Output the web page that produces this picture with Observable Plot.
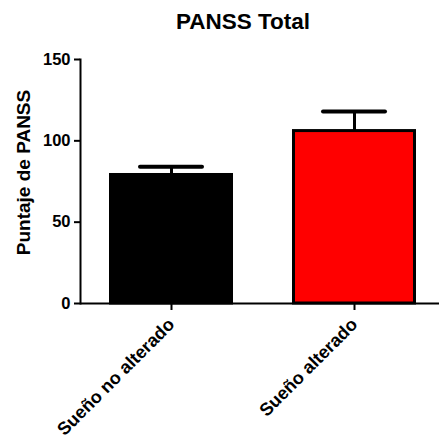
<!DOCTYPE html>
<html>
<head>
<meta charset="utf-8">
<script src="https://cdn.jsdelivr.net/npm/d3@7"></script>
<script src="https://cdn.jsdelivr.net/npm/@observablehq/plot@0.6"></script>
<style>
  html, body { margin: 0; padding: 0; background: #fff; }
</style>
</head>
<body>
<div id="chart"></div>
<script>
// PANSS total score by sleep group: mean and error (upper whisker only)
const groups = ["Sueño no alterado", "Sueño alterado"];
const means = [79, 106];
const errors = [5, 12];
const colors = ["#000000", "#ff0000"];
const yTicks = [0, 50, 100, 150];

const title = "PANSS Total";
const yLabel = "Puntaje de PANSS";

const rows = groups.map((g, i) => ({group: g, mean: means[i], err: errors[i], color: colors[i]}));

const font = "'Liberation Sans', Arial, Helvetica, sans-serif";

const chart = Plot.plot({
  width: 439,
  height: 440,
  marginLeft: 80,
  marginRight: 0,
  marginTop: 59,
  marginBottom: 137,
  style: {fontFamily: font, fontWeight: "bold", fontSize: "16px", color: "#000", background: "#fff"},
  x: {domain: groups, paddingInner: 0.32, paddingOuter: 0.138, align: 0.57, label: null},
  y: {domain: [0, 150], label: null},
  marks: [
    // error whiskers: stem and cap
    Plot.ruleX(rows, {x: "group", y1: "mean", y2: (d) => d.mean + d.err, stroke: "#000", strokeWidth: 3}),
    Plot.tickY(rows, {x: "group", y: (d) => d.mean + d.err, stroke: "#000", strokeWidth: 4, strokeLinecap: "round", insetLeft: 31, insetRight: 31}),
    // bars
    Plot.barY(rows, {x: "group", y: "mean", fill: "color", stroke: "#000", strokeWidth: 3, insetLeft: 1.5, insetRight: 1.5}),
    // axes
    Plot.axisY({ticks: yTicks, tickSize: 6, tickPadding: 4, strokeWidth: 2, fontSize: 16.5, fontWeight: "bold", label: null}),
    Plot.axisX({tickSize: 7, tickPadding: 11, tickRotate: -45, strokeWidth: 2, fontSize: 18, fontWeight: "bold", label: null}),
    Plot.ruleY([0], {stroke: "#000", strokeWidth: 2}),
    Plot.frame({anchor: "left", stroke: "#000", strokeWidth: 2}),
    // title and y-axis label
    Plot.text([title], {frameAnchor: "top", text: (d) => d, dx: -17, dy: -31, lineAnchor: "bottom", fontSize: 22.5, fontWeight: "bold", fill: "#000"}),
    Plot.text([yLabel], {frameAnchor: "left", text: (d) => d, textAnchor: "middle", rotate: -90, dx: -57, dy: -9, fontSize: 19, fontWeight: "bold", fill: "#000"})
  ]
});

document.getElementById("chart").appendChild(chart);
</script>
</body>
</html>
